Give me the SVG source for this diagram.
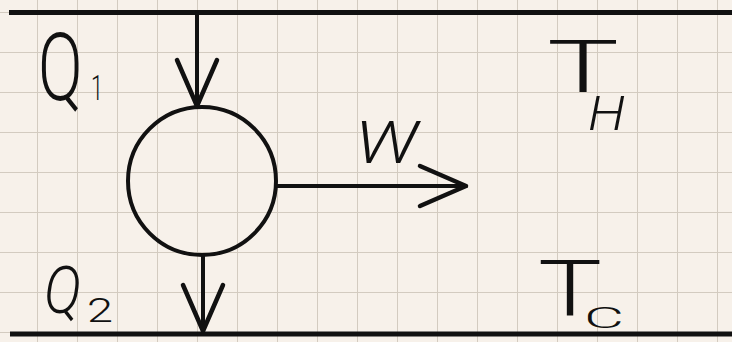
<svg xmlns="http://www.w3.org/2000/svg" width="732" height="342" viewBox="0 0 732 342">
  <defs>
    <pattern id="grid" x="37" y="12" width="40" height="40" patternUnits="userSpaceOnUse">
      <path d="M0,0 V40 M0,0 H40" fill="none" stroke="#d3cbc0" stroke-width="2"/>
    </pattern>
    <marker id="arr" viewBox="-50 -25 56 50" refX="0" refY="0" markerWidth="56" markerHeight="50" markerUnits="userSpaceOnUse" orient="auto">
      <path d="M-46,-20 L0,0 L-46,20" fill="none" stroke="#111" stroke-width="4.5" stroke-linecap="round" stroke-linejoin="round"/>
    </marker>
  </defs>
  <style>
    .ink { stroke: #111; fill: none; stroke-linecap: round; }
    .res { stroke: #111; stroke-width: 5; }
    .lbl { font-family: Roboto, "Open Sans", "Liberation Sans", sans-serif; fill: #111; font-weight: 300; }
  </style>
  <rect width="732" height="342" fill="#f7f1ea"/>
  <rect width="732" height="342" fill="url(#grid)"/>

  <g id="hot-reservoir">
    <line class="res" x1="9" y1="12.5" x2="732" y2="12.5"/>
    <text class="lbl"><tspan x="547" y="92" font-size="72" textLength="72" lengthAdjust="spacingAndGlyphs">T</tspan><tspan x="588" y="130" font-size="48" font-style="italic" textLength="37" lengthAdjust="spacingAndGlyphs">H</tspan></text>
  </g>

  <g id="cold-reservoir">
    <line class="res" x1="10" y1="334" x2="732" y2="334"/>
    <text class="lbl"><tspan x="538" y="315" font-size="78" textLength="64" lengthAdjust="spacingAndGlyphs">T</tspan><tspan x="584" y="328" font-size="29" textLength="40" lengthAdjust="spacingAndGlyphs">C</tspan></text>
  </g>

  <g id="engine">
    <circle class="ink" cx="202" cy="181" r="74" stroke-width="4"/>
  </g>

  <g id="connectors">
    <line class="ink" x1="197" y1="14" x2="197" y2="106" stroke-width="4" marker-end="url(#arr)"/>
    <line class="ink" x1="203" y1="255" x2="203" y2="331" stroke-width="4" marker-end="url(#arr)"/>
    <line class="ink" x1="277" y1="186" x2="466" y2="186" stroke-width="4" marker-end="url(#arr)"/>
  </g>

  <g id="label-q1">
    <text class="lbl" transform="translate(38,100) scale(1,1.42)" font-size="66">Q</text>
    <text class="lbl" x="91" y="100" font-size="35" textLength="12" lengthAdjust="spacingAndGlyphs">1</text>
  </g>

  <g id="label-q2">
    <text class="lbl"><tspan x="44" y="313" font-size="67" font-style="italic" textLength="37" lengthAdjust="spacingAndGlyphs">Q</tspan><tspan x="87" y="322" font-size="33" textLength="26" lengthAdjust="spacingAndGlyphs">2</tspan></text>
  </g>

  <g id="label-w">
    <text class="lbl" x="355" y="163" font-size="60" font-style="italic" textLength="63" lengthAdjust="spacingAndGlyphs">W</text>
  </g>
</svg>
